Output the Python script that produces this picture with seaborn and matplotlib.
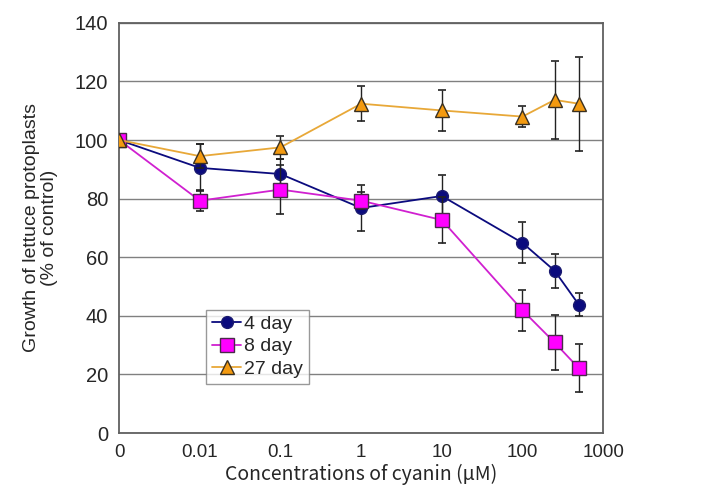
import numpy as np
import pandas as pd
import matplotlib
matplotlib.use("Agg")
import matplotlib.pyplot as plt
import seaborn as sns

# concentrations of cyanin (uM); 0 is drawn one decade left of 0.01
conc = [0, 0.01, 0.1, 1, 10, 100, 250, 500]
zero_pos = 0.001

day4 = [100, 90.5, 88.4, 76.8, 80.9, 64.9, 55.4, 43.8]
day4_err = [0, 8, 5, 7.7, 7, 7, 5.8, 4]
day8 = [100, 79.3, 83.1, 79.3, 72.7, 41.9, 30.9, 22.1]
day8_err = [0, 3.6, 8.5, 3, 8, 7, 9.5, 8.2]
day27 = [100, 94.5, 97.5, 112.4, 110.1, 108, 113.7, 112.4]
day27_err = [0, 4, 4, 6, 7, 3.7, 13.4, 16]

xtick_vals = [0, 0.01, 0.1, 1, 10, 100, 1000]
xtick_labels = ["0", "0.01", "0.1", "1", "10", "100", "1000"]
ytick_vals = [0, 20, 40, 60, 80, 100, 120, 140]

sns.set_style("white")
plt.rcParams["font.family"] = ["Liberation Sans", "DejaVu Sans"]

xpos = np.where(np.array(conc) == 0, zero_pos, np.array(conc, dtype=float))

fig = plt.figure(figsize=(7.18, 4.86), dpi=100)
ax = fig.add_axes([0.166, 0.109, 0.674, 0.844])

series = [
    ("4 day", day4, day4_err, "o", "#0b0b7e", "#0b0b7e", "#1a1a70", 8.5),
    ("8 day", day8, day8_err, "s", "#ff00ff", "#d020d0", "#4a2a4a", 10),
    ("27 day", day27, day27_err, "^", "#f39a10", "#e8a838", "#3a3020", 10),
]

for i, (name, vals, errs, mk, fc, lc, ec, ms) in enumerate(series):
    ax.errorbar(xpos, vals, yerr=errs, fmt="none", ecolor="#222222",
                elinewidth=1.0, capsize=3, capthick=1.2, zorder=2 + i)
    df = pd.DataFrame({"x": xpos, "y": vals})
    sns.lineplot(data=df, x="x", y="y", ax=ax, color=lc, linewidth=1.3,
                 marker=mk, markersize=ms, markerfacecolor=fc,
                 markeredgecolor=ec, markeredgewidth=1.0, label=name,
                 zorder=3 + i)

ax.set_xscale("log")
ax.set_xlim(zero_pos, 1000)
ax.set_ylim(0, 140)
ax.set_xticks([zero_pos if v == 0 else v for v in xtick_vals])
ax.set_xticklabels(xtick_labels)
ax.set_yticks(ytick_vals)
ax.minorticks_off()

ax.yaxis.grid(True, color="#808080", linewidth=1.0)
ax.xaxis.grid(False)
ax.set_axisbelow(True)

for sp in ax.spines.values():
    sp.set_color("#606060")
    sp.set_linewidth(1.3)

ax.tick_params(axis="x", direction="in", length=5, width=1, color="#606060",
               labelsize=13.5, pad=8)
ax.tick_params(axis="y", length=0, labelsize=14.5, pad=8)

ax.set_xlabel("Concentrations of cyanin (\u03bcM)", fontsize=14,
              family=["Noto Sans CJK JP", "DejaVu Sans"], labelpad=2)
ax.set_ylabel("Growth of lettuce protoplasts\n(% of control)", fontsize=14,
              labelpad=12, linespacing=1.05, multialignment="center")

leg = ax.legend(loc="lower left", bbox_to_anchor=(0.18, 0.12), fontsize=14,
                frameon=True, fancybox=False, edgecolor="#808080",
                handlelength=1.5, handletextpad=0.15, borderpad=0.3,
                labelspacing=0.25, borderaxespad=0)
leg.get_frame().set_linewidth(1.0)

fig.savefig("out.png", dpi=100)
